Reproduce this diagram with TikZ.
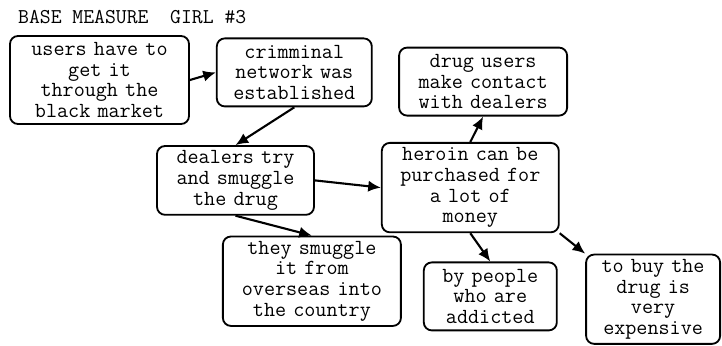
\documentclass[tikz,border=0pt]{standalone}
\usepackage{fontspec}
\usetikzlibrary{arrows.meta}
\tikzstyle{idea} = [rectangle, rounded corners=0.2cm, inner xsep=0pt, text centered, draw=black, line width=1.3pt, font=\ttfamily\fontsize{15.3}{14.7}\selectfont]
\tikzstyle{tall} = [idea, minimum height=2.2cm]
\tikzstyle{flat} = [idea, minimum height=1.7cm]
\tikzstyle{arrow} = [line width=1.5pt, -{Latex[length=9pt,width=8pt]}]

\begin{document}
\begin{tikzpicture}[node distance=2cm]
	\useasboundingbox (-2.4875,2) rectangle (15.5625,-6.625);

	\node (title) [anchor=west, inner sep=0pt, font=\ttfamily\fontsize{15}{14.7}\selectfont] at (-2.04,1.575) {BASE MEASURE\ \ GIRL \#3};

	\node (users) [tall, text width=4.475cm] {users have to\\get it\\through the\\black market};
	\node (network) [flat, text width=3.875cm, right of=users, xshift=2.87cm, yshift=0.19cm] {crimminal\\network was\\established};

	\draw [arrow] (users.east) -- (network.west);

	\node (dealers) [flat, text width=3.925cm, below of=network, xshift=-1.47cm, yshift=-0.7cm] {dealers try\\and smuggle\\the drug};
	\node (heroin) [tall, text width=4.425cm, right of=dealers, xshift=3.87cm, yshift=-0.18cm] {heroin can be\\purchased for\\a lot of\\money};
	\node (contact) [flat, text width=4.2cm, above of=heroin, xshift=0.32cm, yshift=0.65cm] {drug users\\make contact\\with dealers};

	\draw [arrow] (network.south) -- (dealers.north);
	\draw [arrow] (dealers.east) -- (heroin.west);
	\draw [arrow] (heroin.north) -- (contact.south);

	\node (smuggle) [tall, text width=4.45cm, below of=dealers, xshift=1.91cm, yshift=-0.52cm] {they smuggle\\it from\\overseas into\\the country};
	\node (addicted) [flat, text width=3.325cm, below of=heroin, xshift=0.5cm, yshift=-0.72cm] {by people\\who are\\addicted};
	\node (expensive) [tall, text width=3.35cm, right of=addicted, xshift=2.07cm, yshift=-0.07cm] {to buy the\\drug is\\very\\expensive};

	\draw [arrow] (dealers.south) -- (smuggle.north);
	\draw [arrow] (heroin.south) -- (addicted.north);
	\draw [arrow] (heroin.south east) -- (expensive.north west);
\end{tikzpicture}
\end{document}
